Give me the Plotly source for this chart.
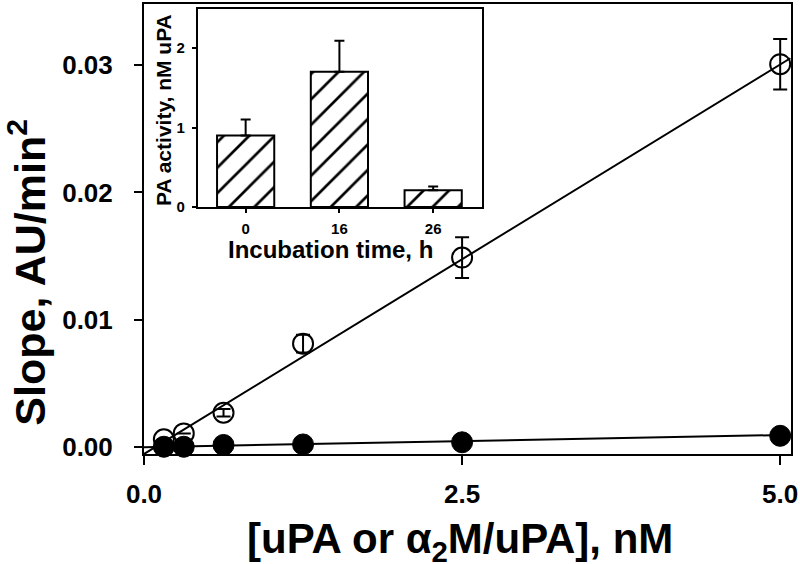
import plotly.graph_objects as go

# ---- main panel data ----
conc = [0.156, 0.3125, 0.625, 1.25, 2.5, 5.0]
slope_upa = [0.0006, 0.00107, 0.00269, 0.00812, 0.01488, 0.03007]
slope_upa_err = [0.0, 0.0, 0.0003, 0.0007, 0.0016, 0.00198]
slope_a2m = [0.00002, 0.00002, 0.00016, 0.0002, 0.00037, 0.00088]

fit_x = [0.0, 5.08]
fit_upa_intercept, fit_upa_slope = -0.00055, 0.00612
fit_a2m_intercept, fit_a2m_slope = -0.00001, 0.00019

x_ticks = [0.0, 2.5, 5.0]
x_ticktext = ["0.0", "2.5", "5.0"]
y_ticks = [0.0, 0.01, 0.02, 0.03]
y_ticktext = ["0.00", "0.01", "0.02", "0.03"]

# ---- inset data ----
inc_time = ["0", "16", "26"]
pa_activity = [0.9, 1.7, 0.21]
pa_err = [0.2, 0.39, 0.05]
inset_y_ticks = [0, 1, 2]

FONT = "Liberation Sans, Arial, Helvetica, sans-serif"

fig = go.Figure()

fig.add_trace(go.Scatter(
    x=fit_x, y=[fit_upa_intercept + fit_upa_slope * v for v in fit_x],
    mode="lines", line=dict(color="black", width=2), showlegend=False,
    xaxis="x", yaxis="y"))
fig.add_trace(go.Scatter(
    x=fit_x, y=[fit_a2m_intercept + fit_a2m_slope * v for v in fit_x],
    mode="lines", line=dict(color="black", width=2), showlegend=False,
    xaxis="x", yaxis="y"))
fig.add_trace(go.Scatter(
    x=conc, y=slope_a2m, mode="markers",
    marker=dict(symbol="circle", size=21, color="black",
                line=dict(color="black", width=1)),
    showlegend=False, xaxis="x", yaxis="y", cliponaxis=False))
fig.add_trace(go.Scatter(
    x=conc, y=slope_upa, mode="markers",
    marker=dict(symbol="circle-open", size=20, color="black",
                line=dict(color="black", width=2)),
    error_y=dict(type="data", array=slope_upa_err, visible=True,
                 color="black", thickness=2, width=7),
    showlegend=False, xaxis="x", yaxis="y", cliponaxis=False))

# inset bars
fig.add_trace(go.Bar(
    x=inc_time, y=pa_activity, width=0.61,
    marker=dict(color="white", line=dict(color="black", width=2),
                pattern=dict(shape="/", size=18, solidity=0.15,
                             fgcolor="#000000", fgopacity=1,
                             bgcolor="white", fillmode="replace")),
    error_y=dict(type="data", symmetric=False, array=pa_err,
                 arrayminus=[0, 0, 0], visible=True,
                 color="black", thickness=2, width=5),
    showlegend=False, xaxis="x2", yaxis="y2"))

axis_common = dict(showline=True, linecolor="black", linewidth=2,
                   mirror=True, showgrid=False, zeroline=False,
                   ticks="outside", tickcolor="black", tickwidth=2)

fig.update_layout(
    width=800, height=564,
    margin=dict(l=144, r=7, t=2, b=110),
    paper_bgcolor="white", plot_bgcolor="white",
    font=dict(family=FONT, color="black"),
    xaxis=dict(**axis_common, range=[0, 5.085], domain=[0, 1],
               tickvals=x_ticks, ticktext=x_ticktext, ticklen=9,
               ticklabelstandoff=7, ticklabeloverflow="allow",
               tickfont=dict(size=26, family=FONT, weight="bold")),
    yaxis=dict(**axis_common, range=[-0.00055, 0.0348], domain=[0, 1],
               tickvals=y_ticks, ticktext=y_ticktext, ticklen=8,
               ticklabelstandoff=16,
               tickfont=dict(size=26, family=FONT, weight="bold")),
    xaxis2=dict(**axis_common, type="category", range=[-0.51, 2.52],
                domain=[0.0832, 0.5223], anchor="y2", ticklen=4,
                ticklabelstandoff=3,
                tickfont=dict(size=15, family=FONT, weight="bold")),
    yaxis2=dict(**axis_common, range=[0, 2.49], domain=[0.5487, 0.989],
                anchor="x2", tickvals=inset_y_ticks, ticklen=4,
                ticklabelstandoff=4,
                tickfont=dict(size=15, family=FONT, weight="bold")),
    bargap=0.39,
)

fig.add_annotation(text="[uPA or α<sub>2</sub>M/uPA], nM", xref="paper", yref="paper",
                   x=0.4884, y=-0.13, xanchor="center", yanchor="top",
                   showarrow=False, font=dict(size=42, family=FONT, weight="bold", color="black"))
fig.add_annotation(text="Slope, AU/min<sup>2</sup>", xref="paper", yref="paper",
                   x=-0.181, y=0.405, xanchor="center", yanchor="middle",
                   textangle=-90, showarrow=False,
                   font=dict(size=43, family=FONT, weight="bold", color="black"))
fig.add_annotation(text="PA activity, nM uPA", xref="paper", yref="paper",
                   x=0.0293, y=0.7644, xanchor="center", yanchor="middle",
                   textangle=-90, showarrow=False,
                   font=dict(size=21, family=FONT, weight="bold", color="black"))
fig.add_annotation(text="Incubation time, h", xref="paper", yref="paper",
                   x=0.2881, y=0.455, xanchor="center", yanchor="middle",
                   showarrow=False,
                   font=dict(size=24, family=FONT, weight="bold", color="black"))

fig.write_html("out.html", config={"displayModeBar": False},
               post_script="document.body.style.margin='0px';document.body.style.overflow='hidden';")
